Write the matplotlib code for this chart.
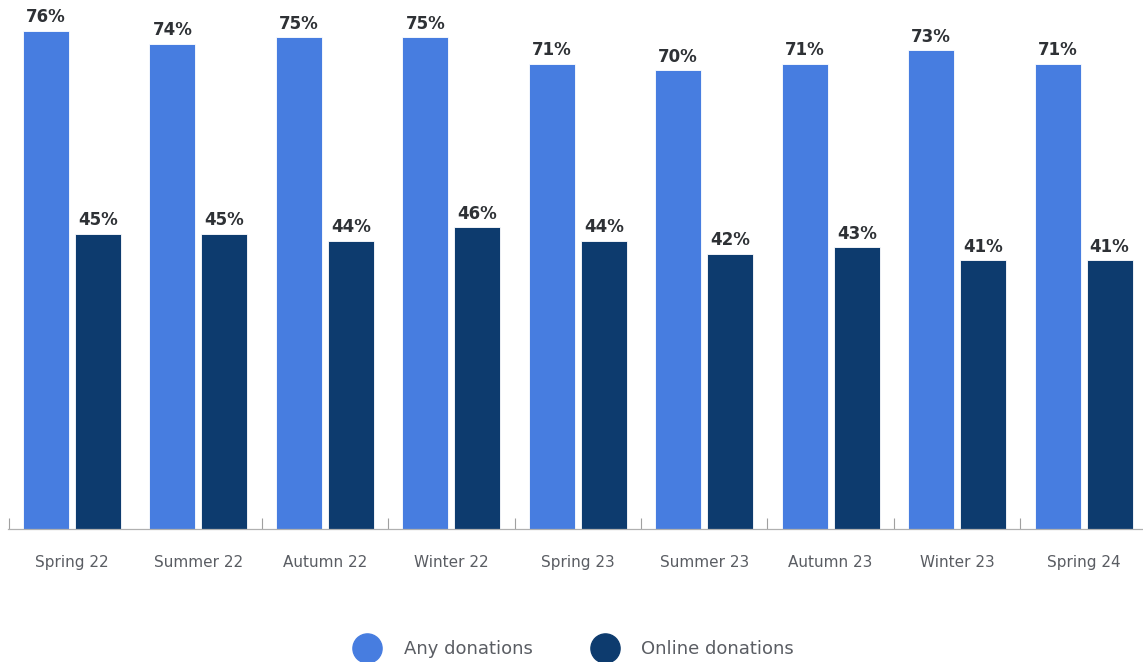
import numpy as np
import matplotlib.pyplot as plt
from matplotlib.lines import Line2D

# Share of people donating, by survey wave
waves = ['Spring 22', 'Summer 22', 'Autumn 22', 'Winter 22', 'Spring 23',
         'Summer 23', 'Autumn 23', 'Winter 23', 'Spring 24']
any_donations = [76, 74, 75, 75, 71, 70, 71, 73, 71]
online_donations = [45, 45, 44, 46, 44, 42, 43, 41, 41]

any_color = '#477DE0'
online_color = '#0D3B6E'
text_color = '#2E3135'
label_color = '#5A5D63'

plt.rcParams['font.family'] = ['DejaVu Sans']

fig = plt.figure(figsize=(11.43, 6.62), dpi=100)
ax = fig.add_axes([0.007, 0.201, 0.993, 0.799])

x = np.arange(len(waves))
width = 0.364
offset = 0.206

bars_any = ax.bar(x - offset, any_donations, width, color=any_color,
                  edgecolor='white', linewidth=0.6)
bars_online = ax.bar(x + offset, online_donations, width, color=online_color,
                     edgecolor='white', linewidth=0.6)

for bars, vals in [(bars_any, any_donations), (bars_online, online_donations)]:
    for b, v in zip(bars, vals):
        ax.text(b.get_x() + b.get_width() / 2, v + 0.7, f'{v}%',
                ha='center', va='bottom', fontsize=12, fontweight='bold',
                color=text_color)

ax.set_xlim(-0.506, 8.47)
ax.set_ylim(0, 80.7)

# category labels, with small separator ticks between groups
ax.set_xticks(x)
ax.set_xticklabels(waves, fontsize=11, color=label_color)
ax.tick_params(axis='x', which='major', length=0, pad=19)
ax.set_xticks([-0.5] + [k + 0.5 for k in range(1, 8)], minor=True)
ax.tick_params(axis='x', which='minor', direction='in', length=8,
               width=0.8, color='#A0A0A0')
ax.set_yticks([])

for side in ['top', 'right', 'left']:
    ax.spines[side].set_visible(False)
ax.spines['bottom'].set_color('#B0B0B0')
ax.spines['bottom'].set_linewidth(0.9)

handles = [
    Line2D([], [], marker='o', linestyle='none', markersize=21,
           markerfacecolor=any_color, markeredgecolor=any_color),
    Line2D([], [], marker='o', linestyle='none', markersize=21,
           markerfacecolor=online_color, markeredgecolor=online_color),
]
fig.legend(handles, ['Any donations', 'Online donations'],
           loc='center', bbox_to_anchor=(0.5, 0.019), ncol=2, frameon=False,
           fontsize=13, labelcolor=label_color, handletextpad=1.0,
           columnspacing=3.0)

fig.savefig('out.png', dpi=100)
